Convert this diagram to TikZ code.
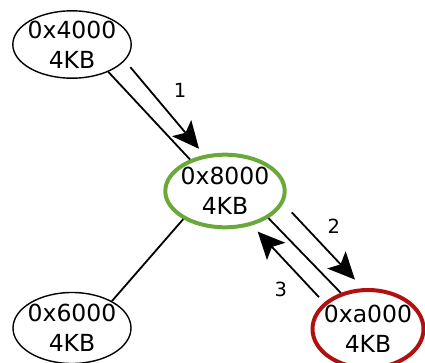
\documentclass[tikz,border=0pt]{standalone}
\usepackage{fontspec}
\setmainfont{DejaVu Sans}
\usetikzlibrary{shapes.geometric,arrows.meta}
\definecolor{okgreen}{RGB}{106,168,58}
\definecolor{badred}{RGB}{178,16,16}
\begin{document}
\begin{tikzpicture}[x=1pt,y=-1pt,
  page/.style={ellipse, draw, line width=1.4pt, inner xsep=-20pt, inner ysep=-12pt,
    align=center, font=\fontsize{23.5}{30}\selectfont},
  link/.style={line width=1.8pt},
  move/.style={line width=1.8pt, -{Stealth[length=27pt,width=25pt,inset=6pt]}},
  steplabel/.style={font=\fontsize{19.5}{24}\selectfont, inner sep=0pt}]
\useasboundingbox (0,0) rectangle (425,362);

% memory pages
\node[page, minimum width=118.4pt, minimum height=67.4pt] (p4) at (72,44.5) {0x4000\\4KB};
\node[page, draw=okgreen, line width=4pt, minimum width=119.4pt, minimum height=72.6pt] (p8) at (225,191) {0x8000\\4KB};
\node[page, minimum width=118pt, minimum height=71pt] (p6) at (72,328) {0x6000\\4KB};
\node[page, draw=badred, line width=4pt, minimum width=111pt, minimum height=78pt] (pa) at (368,329) {0xa000\\4KB};

% links between pages
\draw[link] (p4.-37.2) -- (p8.138.3);
\draw[link] (p8.-32.6) -- (pa.127.2);
\draw[link] (p8.-146.1) -- (p6.34.6);

% numbered moves
\draw[move, shorten <=8.5pt, shorten >=8pt] (p4.-17.5) -- (p8.120.1);
\draw[move, shorten <=12.25pt, shorten >=11.7pt] (p8.-12.9) -- (pa.97.2);
\draw[move, shorten <=7.4pt, shorten >=8.4pt] (pa.149) -- (p8.-52.5);

\node[steplabel] (l1) at (180,90) {1};
\node[steplabel] (l2) at (333.8,226.7) {2};
\node[steplabel] (l3) at (280.8,289.5) {3};
\end{tikzpicture}
\end{document}
